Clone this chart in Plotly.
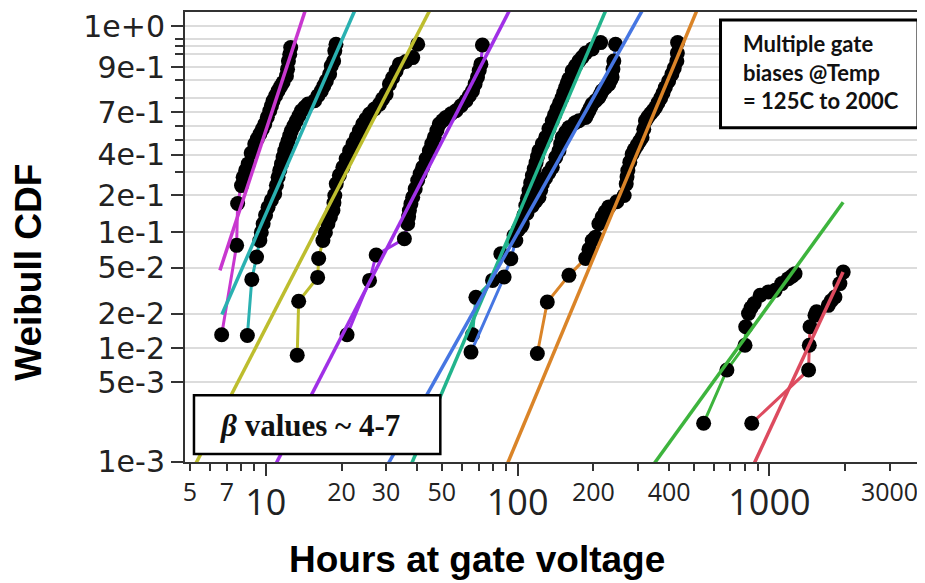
import numpy as np
import plotly.graph_objects as go

# ---------------- data (hours, Weibull CDF) ----------------
magenta_t = [6.68, 7.66, 7.73, 8.01, 8.13, 8.32, 8.51, 8.75, 9.04, 9.25, 9.47, 9.69, 9.91, 10.14, 10.37, 10.53, 10.69, 10.94, 11.19, 11.45, 11.71, 12.08, 12.2, 12.3, 12.45, 12.56]
magenta_F = [0.0131, 0.0778, 0.1726, 0.2385, 0.2756, 0.31, 0.345, 0.41, 0.4695, 0.505, 0.540, 0.577, 0.613, 0.664, 0.712, 0.748, 0.782, 0.815, 0.845, 0.869, 0.890, 0.920, 0.9447, 0.967, 0.98, 0.9887]

cyan_t = [8.45, 8.80, 9.19, 9.47, 9.6, 9.76, 9.98, 10.21, 10.52, 10.85, 11.02, 11.19, 11.36, 11.54, 11.71, 11.89, 12.07, 12.26, 12.45, 12.64, 12.93, 13.23, 13.54, 13.85, 14.28, 14.71, 15.63, 16.1, 16.62, 17.0, 17.40, 17.93, 18.2, 18.6, 18.8, 19.0]
cyan_F = [0.0129, 0.0398, 0.0619, 0.0856, 0.10, 0.118, 0.139, 0.161, 0.183, 0.2058, 0.24, 0.2756, 0.31, 0.345, 0.385, 0.425, 0.458, 0.492, 0.528, 0.564, 0.60, 0.638, 0.675, 0.712, 0.737, 0.7595, 0.782, 0.815, 0.845, 0.873, 0.898, 0.927, 0.955, 0.967, 0.985, 0.9918]

yellow_t = [13.33, 13.51, 16.07, 16.22, 16.86, 17.25, 17.65, 18.05, 18.48, 18.65, 18.8, 19.05, 19.6, 20.24, 20.85, 21.52, 22.2, 22.87, 23.55, 24.28, 25.0, 25.82, 27.0, 28.28, 29.1, 30.06, 30.98, 31.9, 32.94, 33.95, 36.0, 38.32, 40.11]
yellow_F = [0.00869, 0.0257, 0.0414, 0.0603, 0.0856, 0.10, 0.118, 0.134, 0.1515, 0.175, 0.2, 0.246, 0.285, 0.326, 0.375, 0.425, 0.47, 0.5155, 0.565, 0.613, 0.65, 0.688, 0.725, 0.7595, 0.795, 0.8254, 0.882, 0.912, 0.939, 0.9594, 0.966, 0.9743, 0.9918]

purple_t = [21.03, 25.82, 27.44, 35.52, 36.61, 36.9, 37.18, 37.7, 38.32, 39.2, 40.11, 41.0, 41.98, 43.3, 44.62, 45.6, 46.7, 47.8, 48.88, 50.4, 51.96, 54.4, 56.92, 59.6, 62.35, 64.3, 66.22, 67.8, 69.3, 70.4, 71.5, 72.5]
purple_F = [0.0131, 0.039, 0.0645, 0.0885, 0.118, 0.135, 0.1515, 0.172, 0.1934, 0.225, 0.2605, 0.293, 0.326, 0.375, 0.425, 0.47, 0.5155, 0.565, 0.613, 0.64, 0.663, 0.69, 0.712, 0.748, 0.782, 0.815, 0.845, 0.883, 0.915, 0.94, 0.9594, 0.9912]

teal_t = [66.2, 68.3, 79.5, 85.8, 96.85, 100.5, 104.5, 106.1, 107.8, 109.4, 111.0, 112.7, 114.5, 116.4, 118.4, 120.0, 121.6, 125.4, 129.3, 133.2, 137.3, 140.3, 143.4, 146.7, 150.1, 152.6, 155.2, 157.5, 159.9, 164.8, 170.0, 175.2, 180.5, 186.3, 197.8, 213.6]
teal_F = [0.0131, 0.0278, 0.039, 0.0661, 0.0943, 0.105, 0.118, 0.14, 0.166, 0.19, 0.2184, 0.25, 0.284, 0.318, 0.352, 0.388, 0.425, 0.47, 0.5155, 0.578, 0.638, 0.683, 0.726, 0.765, 0.802, 0.835, 0.864, 0.887, 0.907, 0.939, 0.955, 0.967, 0.975, 0.982, 0.9873, 0.993]

blue_t = [65.3, 88.4, 94.0, 98.4, 103.5, 109.0, 114.5, 118.0, 121.6, 123.5, 125.4, 129.2, 133.2, 137.3, 141.7, 146.0, 148.2, 150.4, 155.0, 159.9, 169.0, 175.2, 186.3, 189.0, 191.9, 194.8, 197.8, 204.0, 210.3, 213.5, 216.7, 223.5, 230.3, 233.8, 237.3, 239.2, 241.1, 244.9]
blue_F = [0.00924, 0.0417, 0.0599, 0.0856, 0.112, 0.1444, 0.166, 0.18, 0.1934, 0.22, 0.246, 0.272, 0.2986, 0.326, 0.3833, 0.425, 0.47, 0.5155, 0.552, 0.588, 0.623, 0.638, 0.663, 0.688, 0.712, 0.735, 0.7595, 0.782, 0.804, 0.825, 0.845, 0.864, 0.882, 0.9, 0.915, 0.945, 0.967, 0.9918]

orange_t = [119.8, 131.2, 159.9, 186.3, 192.0, 197.8, 204.0, 210.3, 216.7, 223.0, 230.3, 247.7, 265, 270, 272, 274, 279, 285, 291, 298, 305, 312, 317, 322, 329, 337, 345, 353, 361, 370, 378, 386, 398, 410, 419, 429, 431, 432]
orange_F = [0.00899, 0.0253, 0.0431, 0.0603, 0.072, 0.0856, 0.0913, 0.118, 0.134, 0.148, 0.162, 0.178, 0.20, 0.246, 0.278, 0.309, 0.355, 0.404, 0.432, 0.46, 0.488, 0.5155, 0.575, 0.638, 0.665, 0.69, 0.712, 0.7355, 0.768, 0.80, 0.832, 0.864, 0.897, 0.927, 0.948, 0.967, 0.982, 0.993]

green_t = [548, 678, 800, 805, 826, 845, 870, 919, 991, 1054, 1119, 1189, 1230, 1264]
green_F = [0.00219, 0.00644, 0.0106, 0.0154, 0.0201, 0.0225, 0.0246, 0.029, 0.031, 0.032, 0.0366, 0.0404, 0.0425, 0.0446]

red_t = [851, 1431, 1440, 1450, 1517, 1539, 1713, 1760, 1821, 1905, 1964]
red_F = [0.00219, 0.00644, 0.0106, 0.0154, 0.0194, 0.0208, 0.0237, 0.026, 0.028, 0.0366, 0.046]

series_t = [magenta_t, cyan_t, yellow_t, purple_t, teal_t, blue_t, orange_t, green_t, red_t]
series_F = [magenta_F, cyan_F, yellow_F, purple_F, teal_F, blue_F, orange_F, green_F, red_F]
series_colors = ["#C837CF", "#2AB1B1", "#BDBD2E", "#A030E6", "#22B48C", "#4676E2", "#DA8428", "#3DB43D", "#DD4B5F"]

# Weibull fits (scale eta in hours, shape beta) and the CDF span each fit line covers
fit_eta = [10.28, 14.48, 26.5, 55.0, 144.9, 177.0, 337.0, 3345.0, 3716.0]
fit_beta = [6.76, 5.08, 4.30, 4.31, 5.18, 3.96, 5.31, 3.07, 4.78]
fit_F_lo = [0.0476, 0.0197, 0.0005, 0.0005, 0.0005, 0.0005, 0.0005, 0.0005, 0.0005]
fit_F_hi = [0.99999, 0.99999, 0.99999, 0.99999, 0.99999, 0.99999, 0.99999, 0.1767, 0.046]

# axis ticks
y_major = [0.001, 0.005, 0.01, 0.02, 0.05, 0.1, 0.2, 0.4, 0.7, 0.95, 0.999]
y_major_labels = ["1e-3", "5e-3", "1e-2", "2e-2", "5e-2", "1e-1", "2e-1", "4e-1", "7e-1", "9e-1", "1e+0"]
y_minor = [0.3, 0.5, 0.6, 0.8, 0.9, 0.98, 0.99, 0.995]
x_small = [5, 7, 20, 30, 50, 200, 400, 3000]
x_small_labels = ["5", "7", "20", "30", "50", "200", "400", "3000"]
x_big = [10, 100, 1000]
x_big_labels = ["10", "100", "1000"]
x_minor = [6, 8, 9, 40, 60, 70, 80, 90, 300, 500, 600, 700, 800, 900, 2000, 4000]


def wb(F):
    F = np.asarray(F, dtype=float)
    return np.log(-np.log(1.0 - F))


fig = go.Figure()

for t, F, c in zip(series_t, series_F, series_colors):
    fig.add_trace(go.Scatter(
        x=t, y=wb(F), mode="lines+markers",
        line=dict(color=c, width=3),
        marker=dict(color="black", size=15),
        showlegend=False, hoverinfo="skip"))

for eta, beta, flo, fhi, c in zip(fit_eta, fit_beta, fit_F_lo, fit_F_hi, series_colors):
    w = wb([flo, fhi])
    t = eta * np.exp(w / beta)
    fig.add_trace(go.Scatter(
        x=t, y=w, mode="lines", line=dict(color=c, width=3.5),
        showlegend=False, hoverinfo="skip"))

# dummy trace so the overlay axis carrying the decade labels is drawn
fig.add_trace(go.Scatter(x=[10], y=[-20], xaxis="x2", mode="markers",
                         marker=dict(size=1, opacity=0), showlegend=False, hoverinfo="skip"))

XR = [0.6792, 3.602]
YR = [-6.91, 2.223]
tick_col = "#333333"
lab_col = "#222222"

fig.update_layout(
    width=917, height=575,
    margin=dict(l=177, r=2, t=3, b=121),
    paper_bgcolor="white", plot_bgcolor="white",
    xaxis=dict(
        type="log", range=XR, tickmode="array", tickvals=x_small, ticktext=x_small_labels,
        ticks="outside", ticklen=7, tickwidth=2, tickcolor=tick_col,
        tickfont=dict(family="Open Sans", size=25, color=lab_col),
        showgrid=False, zeroline=False, showline=True, linecolor=tick_col, linewidth=2, mirror=True,
        minor=dict(tickmode="array", tickvals=x_minor, ticks="outside", ticklen=7,
                   tickwidth=2, tickcolor=tick_col, showgrid=False),
    ),
    xaxis2=dict(
        type="log", range=XR, overlaying="x", anchor="y", side="bottom",
        tickmode="array", tickvals=x_big, ticktext=x_big_labels,
        ticks="outside", ticklen=13, tickwidth=2, tickcolor=tick_col,
        tickfont=dict(family="Open Sans", size=36, color=lab_col),
        ticklabelstandoff=-4,
        showgrid=False, zeroline=False, showline=False,
    ),
    yaxis=dict(
        range=YR, tickmode="array", tickvals=wb(y_major), ticktext=y_major_labels,
        ticks="outside", ticklen=12, tickwidth=2, tickcolor=tick_col,
        tickfont=dict(family="DejaVu Sans", size=30, color=lab_col),
        showgrid=True, gridcolor="#DCDCDC", gridwidth=2,
        zeroline=False, showline=True, linecolor=tick_col, linewidth=2, mirror=True,
        minor=dict(tickmode="array", tickvals=wb(y_minor), ticks="outside", ticklen=8,
                   tickwidth=2, tickcolor=tick_col, showgrid=True, gridcolor="#DCDCDC", gridwidth=2),
    ),
    shapes=[
        dict(type="rect", xref="paper", yref="paper", x0=0.7276, x1=0.9959, y0=0.7428, y1=0.9823,
             fillcolor="white", line=dict(color="black", width=3), layer="above"),
        dict(type="rect", xref="paper", yref="paper", x0=0.0122, x1=0.3469, y0=0.0177, y1=0.1486,
             fillcolor="white", line=dict(color="black", width=2.5), layer="above"),
    ],
    annotations=[
        dict(xref="paper", yref="paper", x=(743 - 185) / 738, y=(462 - 71) / 451, xanchor="left", yanchor="middle",
             text="Multiple gate<br>biases @Temp<br>= 125C to 200C", align="left", showarrow=False,
             font=dict(family="Lato", size=22, color="#111111", weight="bold")),
        dict(xref="paper", yref="paper", x=0.1694, y=0.082, xanchor="center", yanchor="middle",
             text="<b><i>β</i> values ~ 4-7</b>", showarrow=False,
             font=dict(family="Liberation Serif", size=31, color="#111111")),
        dict(xref="paper", yref="paper", x=(478 - 185) / 738, y=(462 - 560) / 451,
             xanchor="center", yanchor="middle", text="<b>Hours at gate voltage</b>", showarrow=False,
             font=dict(family="Liberation Sans", size=37, color="black")),
        dict(xref="paper", yref="paper", x=(28 - 185) / 738, y=(462 - 272) / 451,
             xanchor="center", yanchor="middle", text="<b>Weibull CDF</b>", showarrow=False, textangle=-90,
             font=dict(family="Liberation Sans", size=37, color="black")),
    ],
)

fig.write_html("out.html")
